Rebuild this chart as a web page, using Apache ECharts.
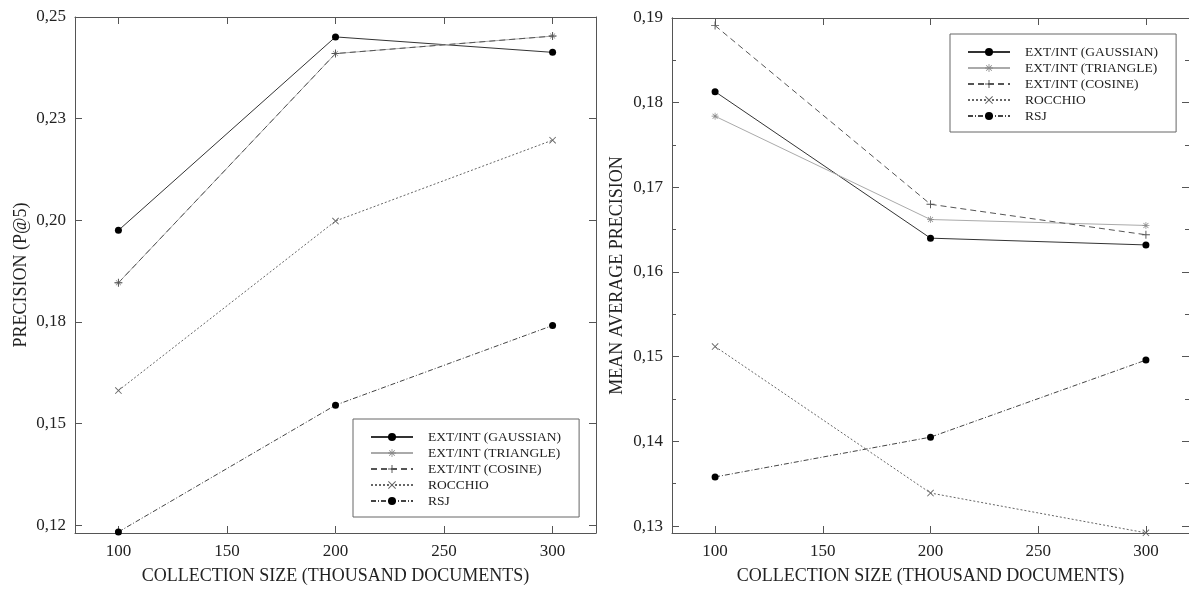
<!DOCTYPE html>
<html>
<head>
<meta charset="utf-8">
<script src="https://cdn.jsdelivr.net/npm/echarts@6/dist/echarts.min.js"></script>
<style>
  html, body { margin: 0; padding: 0; background: #fff; }
  #chart { width: 1189px; height: 590px; }
</style>
</head>
<body>
<div id="chart"></div>
<script>
// collection size (thousand documents)
const sizes = [100, 200, 300]
const seriesNames = ['EXT/INT (GAUSSIAN)', 'EXT/INT (TRIANGLE)', 'EXT/INT (COSINE)', 'ROCCHIO', 'RSJ']

// left: precision (P@5)
const p5Gaussian = [0.1975, 0.2451, 0.2413]
const p5Triangle = [0.1846, 0.2410, 0.2453]
const p5Cosine = [0.1846, 0.2410, 0.2453]
const p5Rocchio = [0.1581, 0.1998, 0.2197]
const p5Rsj = [0.1233, 0.1545, 0.1741]

// right: mean average precision
const mapGaussian = [0.1813, 0.1640, 0.1632]
const mapTriangle = [0.1784, 0.1662, 0.1655]
const mapCosine = [0.1891, 0.1680, 0.1644]
const mapRocchio = [0.1512, 0.1339, 0.1292]
const mapRsj = [0.1358, 0.1405, 0.1496]

// tick values and labels
const xTicks = [100, 150, 200, 250, 300]
const leftYTicks = [0.125, 0.15, 0.175, 0.2, 0.225, 0.25]
const leftYLabels = ['0,12', '0,15', '0,18', '0,20', '0,23', '0,25']
const rightYTicks = [0.13, 0.14, 0.15, 0.16, 0.17, 0.18, 0.19]
const rightYLabels = ['0,13', '0,14', '0,15', '0,16', '0,17', '0,18', '0,19']
const rightYMinor = [0.135, 0.145, 0.155, 0.165, 0.175, 0.185]

const font = "'Liberation Serif', 'DejaVu Serif', serif"
const axisColor = '#555'

const asterisk = 'path://M0 4.5H10V5.5H0Z M4.5 0H5.5V10H4.5Z M1.1 1.8L1.8 1.1L8.9 8.2L8.2 8.9Z M8.2 1.1L8.9 1.8L1.8 8.9L1.1 8.2Z'
const plus = 'path://M0 4.4H10V5.6H0Z M4.4 0H5.6V10H4.4Z'
const cross = 'path://M1.1 1.8L1.8 1.1L8.9 8.2L8.2 8.9Z M8.2 1.1L8.9 1.8L1.8 8.9L1.1 8.2Z'

const styles = [
  { symbol: 'circle', symbolSize: 7, color: '#000', line: { color: '#333', width: 1, type: 'solid' } },
  { symbol: asterisk, symbolSize: 7, color: '#888', line: { color: '#aaa', width: 1, type: 'solid' } },
  { symbol: plus, symbolSize: 8, color: '#555', line: { color: '#555', width: 1, type: [6, 4] } },
  { symbol: cross, symbolSize: 7, color: '#666', line: { color: '#666', width: 1, type: [2, 2] } },
  { symbol: 'circle', symbolSize: 7, color: '#000', line: { color: '#444', width: 1, type: [5, 2, 1, 2] } }
]

function pairs(vals) {
  return sizes.map((s, i) => [s, vals[i]])
}

function makeSeries(name, vals, st, xi, yi) {
  return {
    name: name,
    type: 'line',
    xAxisIndex: xi,
    yAxisIndex: yi,
    data: pairs(vals),
    symbol: st.symbol,
    symbolSize: st.symbolSize,
    showAllSymbol: true,
    itemStyle: { color: st.color },
    lineStyle: st.line,
    clip: false,
    animation: false
  }
}

function xAxisBase(gridIndex, position, showLabel, name) {
  return {
    type: 'value', gridIndex: gridIndex, position: position,
    min: 80, max: 320,
    name: name || '', nameLocation: 'middle', nameGap: 34,
    nameTextStyle: { fontFamily: font, fontSize: 18, color: '#222' },
    axisLine: { show: true, onZero: false, lineStyle: { color: axisColor, width: 1 } },
    axisTick: { show: true, inside: true, length: 7, customValues: xTicks, lineStyle: { color: axisColor } },
    axisLabel: { show: showLabel, customValues: xTicks, margin: 10, fontFamily: font, fontSize: 17, color: '#222' },
    splitLine: { show: false }
  }
}

function yAxisBase(gridIndex, position, min, max, ticks, labels, tickLen, name, nameGap) {
  return {
    type: 'value', gridIndex: gridIndex, position: position,
    min: min, max: max,
    name: name || '', nameLocation: 'middle', nameGap: nameGap || 50,
    nameTextStyle: { fontFamily: font, fontSize: 18, color: '#222' },
    axisLine: { show: true, onZero: false, lineStyle: { color: axisColor, width: 1 } },
    axisTick: { show: true, inside: true, length: tickLen, customValues: ticks, lineStyle: { color: axisColor } },
    axisLabel: {
      show: !!labels, customValues: ticks, margin: 9, fontFamily: font, fontSize: 17, color: '#222',
      formatter: function (v) {
        if (!labels) return ''
        let best = 0
        ticks.forEach((t, i) => { if (Math.abs(t - v) < Math.abs(ticks[best] - v)) best = i })
        return labels[best]
      }
    },
    splitLine: { show: false }
  }
}

const leftMin = 0.12304, leftMax = 0.25
const rightMin = 0.12918, rightMax = 0.19

const legendBase = {
  orient: 'vertical',
  data: seriesNames,
  itemWidth: 42,
  itemHeight: 10,
  itemGap: 2,
  backgroundColor: '#fff',
  borderColor: '#666',
  borderWidth: 1,
  borderRadius: 0,
  padding: [11, 18, 9, 17],
  textStyle: { fontFamily: font, fontSize: 13.5, color: '#222', padding: [0, 0, 0, 10] },
  selectedMode: false
}

const option = {
  backgroundColor: '#fff',
  animation: false,
  grid: [
    { left: 75, top: 17, width: 521, height: 518 },
    { left: 672, top: 18, width: 518, height: 516 }
  ],
  xAxis: [
    xAxisBase(0, 'bottom', true, 'COLLECTION SIZE (THOUSAND DOCUMENTS)'),
    xAxisBase(0, 'top', false),
    xAxisBase(1, 'bottom', true, 'COLLECTION SIZE (THOUSAND DOCUMENTS)'),
    xAxisBase(1, 'top', false)
  ],
  yAxis: [
    yAxisBase(0, 'left', leftMin, leftMax, leftYTicks, leftYLabels, 7, 'PRECISION (P@5)', 45),
    yAxisBase(0, 'right', leftMin, leftMax, leftYTicks, null, 7),
    yAxisBase(1, 'left', rightMin, rightMax, rightYTicks, rightYLabels, 7, 'MEAN AVERAGE PRECISION', 46),
    yAxisBase(1, 'left', rightMin, rightMax, rightYMinor, null, 4),
    yAxisBase(1, 'right', rightMin, rightMax, rightYTicks, null, 7),
    yAxisBase(1, 'right', rightMin, rightMax, rightYMinor, null, 4)
  ],
  legend: [
    Object.assign({}, legendBase, { left: 353, top: 419 }),
    Object.assign({}, legendBase, { left: 950, top: 34 })
  ],
  series: [
    makeSeries(seriesNames[0], p5Gaussian, styles[0], 0, 0),
    makeSeries(seriesNames[1], p5Triangle, styles[1], 0, 0),
    makeSeries(seriesNames[2], p5Cosine, styles[2], 0, 0),
    makeSeries(seriesNames[3], p5Rocchio, styles[3], 0, 0),
    makeSeries(seriesNames[4], p5Rsj, styles[4], 0, 0),
    makeSeries(seriesNames[0], mapGaussian, styles[0], 2, 2),
    makeSeries(seriesNames[1], mapTriangle, styles[1], 2, 2),
    makeSeries(seriesNames[2], mapCosine, styles[2], 2, 2),
    makeSeries(seriesNames[3], mapRocchio, styles[3], 2, 2),
    makeSeries(seriesNames[4], mapRsj, styles[4], 2, 2)
  ]
}

const chartsInstance = echarts.init(document.getElementById('chart'))
chartsInstance.setOption(option)
window.addEventListener('resize', () => chartsInstance.resize())
</script>
</body>
</html>
